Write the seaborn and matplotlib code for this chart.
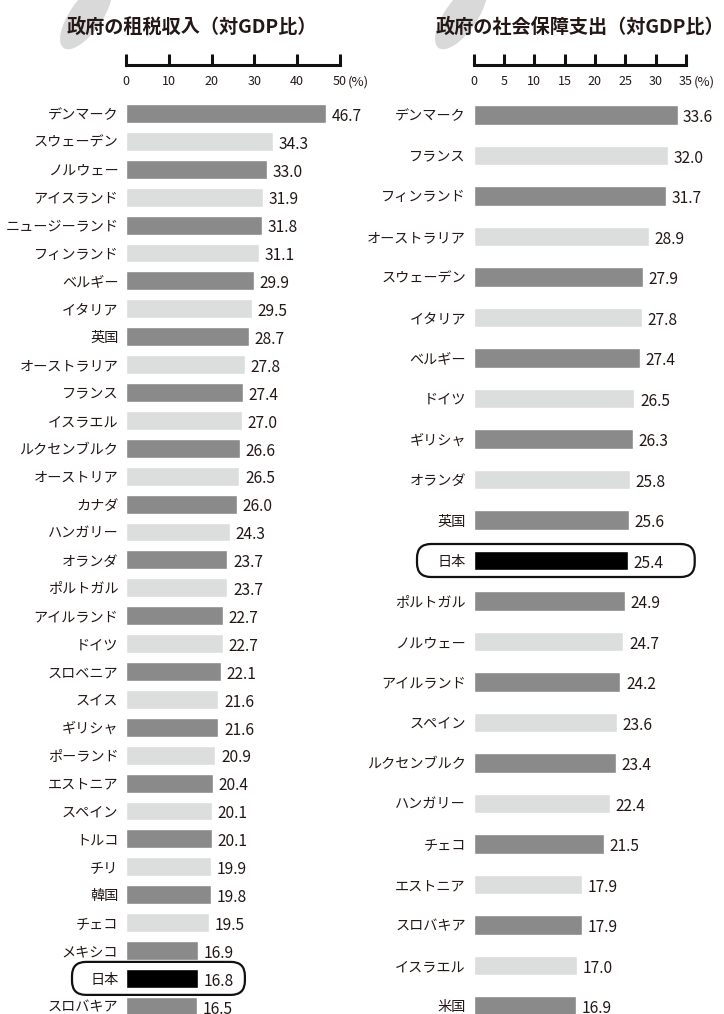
import numpy as np
import pandas as pd
import matplotlib
matplotlib.use("Agg")
import matplotlib.pyplot as plt
import matplotlib.transforms as mtransforms
from matplotlib.patches import FancyBboxPatch, Ellipse
import seaborn as sns

# ---------------- data ----------------
tax_countries = ["デンマーク", "スウェーデン", "ノルウェー", "アイスランド", "ニュージーランド",
                 "フィンランド", "ベルギー", "イタリア", "英国", "オーストラリア", "フランス",
                 "イスラエル", "ルクセンブルク", "オーストリア", "カナダ", "ハンガリー", "オランダ",
                 "ポルトガル", "アイルランド", "ドイツ", "スロベニア", "スイス", "ギリシャ",
                 "ポーランド", "エストニア", "スペイン", "トルコ", "チリ", "韓国", "チェコ",
                 "メキシコ", "日本", "スロバキア"]
tax_values = [46.7, 34.3, 33.0, 31.9, 31.8, 31.1, 29.9, 29.5, 28.7, 27.8, 27.4, 27.0,
              26.6, 26.5, 26.0, 24.3, 23.7, 23.7, 22.7, 22.7, 22.1, 21.6, 21.6, 20.9,
              20.4, 20.1, 20.1, 19.9, 19.8, 19.5, 16.9, 16.8, 16.5]
tax_ticks = [0, 10, 20, 30, 40, 50]

soc_countries = ["デンマーク", "フランス", "フィンランド", "オーストラリア", "スウェーデン",
                 "イタリア", "ベルギー", "ドイツ", "ギリシャ", "オランダ", "英国", "日本",
                 "ポルトガル", "ノルウェー", "アイルランド", "スペイン", "ルクセンブルク",
                 "ハンガリー", "チェコ", "エストニア", "スロバキア", "イスラエル", "米国"]
soc_values = [33.6, 32.0, 31.7, 28.9, 27.9, 27.8, 27.4, 26.5, 26.3, 25.8, 25.6, 25.4,
              24.9, 24.7, 24.2, 23.6, 23.4, 22.4, 21.5, 17.9, 17.9, 17.0, 16.9]
soc_ticks = [0, 5, 10, 15, 20, 25, 30, 35]

titles = ["政府の租税収入（対GDP比）", "政府の社会保障支出（対GDP比）"]
highlight = "日本"

# ---------------- style ----------------
DARK = "#8a8a8a"
LIGHT = "#dcdddd"
JP = "#000000"
TXT = "#231815"
sns.set_style("white")
plt.rcParams["font.family"] = ["Noto Sans CJK JP", "DejaVu Sans"]

W, H = 724, 1014
fig = plt.figure(figsize=(W / 100, H / 100), dpi=100)
pix = mtransforms.Affine2D().scale(1 / W, 1 / H) + fig.transFigure


def colors_for(names):
    out = {}
    for i, n in enumerate(names):
        if n == highlight:
            out[n] = JP
        else:
            out[n] = DARK if i % 2 == 0 else LIGHT
    return out


def panel(names, vals, ticks, x0, x1, row0, step, bar_h, title, title_cx, blob_cx,
          box_left, box_right_pad):
    xmax = ticks[-1]
    top_px = 95
    ax = fig.add_axes([x0 / W, 0, (x1 - x0) / W, (H - top_px) / H])
    df = pd.DataFrame({"country": names, "value": vals})
    sns.barplot(data=df, x="value", y="country", hue="country",
                palette=colors_for(names), legend=False, ax=ax,
                orient="h", width=bar_h, saturation=1)
    ax.set_xlim(0, xmax)
    ax.set_ylim((H - row0) / step, (top_px - row0) / step)
    for s in ax.spines.values():
        s.set_visible(False)
    ax.set_xticks([])
    ax.set_xlabel("")
    ax.set_ylabel("")
    ax.tick_params(axis="y", length=0, pad=5.5, labelsize=10.2, labelcolor=TXT)
    for i, v in enumerate(vals):
        ax.annotate(f"{v:.1f}", xy=(v, i), xytext=(4, -2), textcoords="offset points",
                    ha="left", va="center", fontsize=11.2, color=TXT,
                    annotation_clip=False)

    # ruler axis on top
    rax = fig.add_axes([x0 / W, (H - 65) / H, (x1 - x0) / W, 11 / H])
    rax.set_xlim(0, xmax)
    rax.set_ylim(0, 1)
    rax.patch.set_alpha(0)
    for k, s in rax.spines.items():
        s.set_visible(k == "bottom")
    rax.spines["bottom"].set_linewidth(2.2)
    rax.spines["bottom"].set_color("#111111")
    rax.spines["bottom"].set_capstyle("projecting")
    rax.set_yticks([])
    rax.set_xticks(ticks)
    rax.set_xticklabels([str(t) for t in ticks])
    rax.tick_params(axis="x", direction="in", length=8, width=2.2, color="#111111",
                    pad=7, labelsize=9, labelcolor=TXT, bottom=True)
    rax.annotate("(%)", xy=(xmax, 0), xytext=(5.5, -12), textcoords="offset points",
                 ha="left", va="center", fontsize=9.5, color=TXT, annotation_clip=False)

    # grey blob + title
    fig.patches.append(Ellipse((blob_cx, H - 16), 78, 32, angle=55,
                               facecolor="#d9d9d9", edgecolor="none",
                               transform=pix, zorder=0))
    fig.text(title_cx / W, (H - 27) / H, title, ha="center", va="center",
             fontsize=13.8, fontweight="bold", color=TXT)

    # highlight box around Japan
    j = names.index(highlight)
    disp = ax.transData.transform([(vals[j], j)])[0]
    cy = disp[1]
    xr = disp[0] + box_right_pad
    hh = 16.5
    fig.patches.append(FancyBboxPatch((box_left, cy - hh), xr - box_left, 2 * hh,
                                      boxstyle="round,pad=0,rounding_size=14",
                                      facecolor="none", edgecolor="#111111",
                                      linewidth=1.6, transform=pix, zorder=5))
    return ax


panel(tax_countries, tax_values, tax_ticks, 126, 340, 113.5, 27.9, 0.68,
      titles[0], 192, 86, 72, 47)
panel(soc_countries, soc_values, soc_ticks, 473.5, 686, 115, 40.5, 0.49,
      titles[1], 580, 461, 417, 67)

fig.savefig("out.png", dpi=100, facecolor="white")
